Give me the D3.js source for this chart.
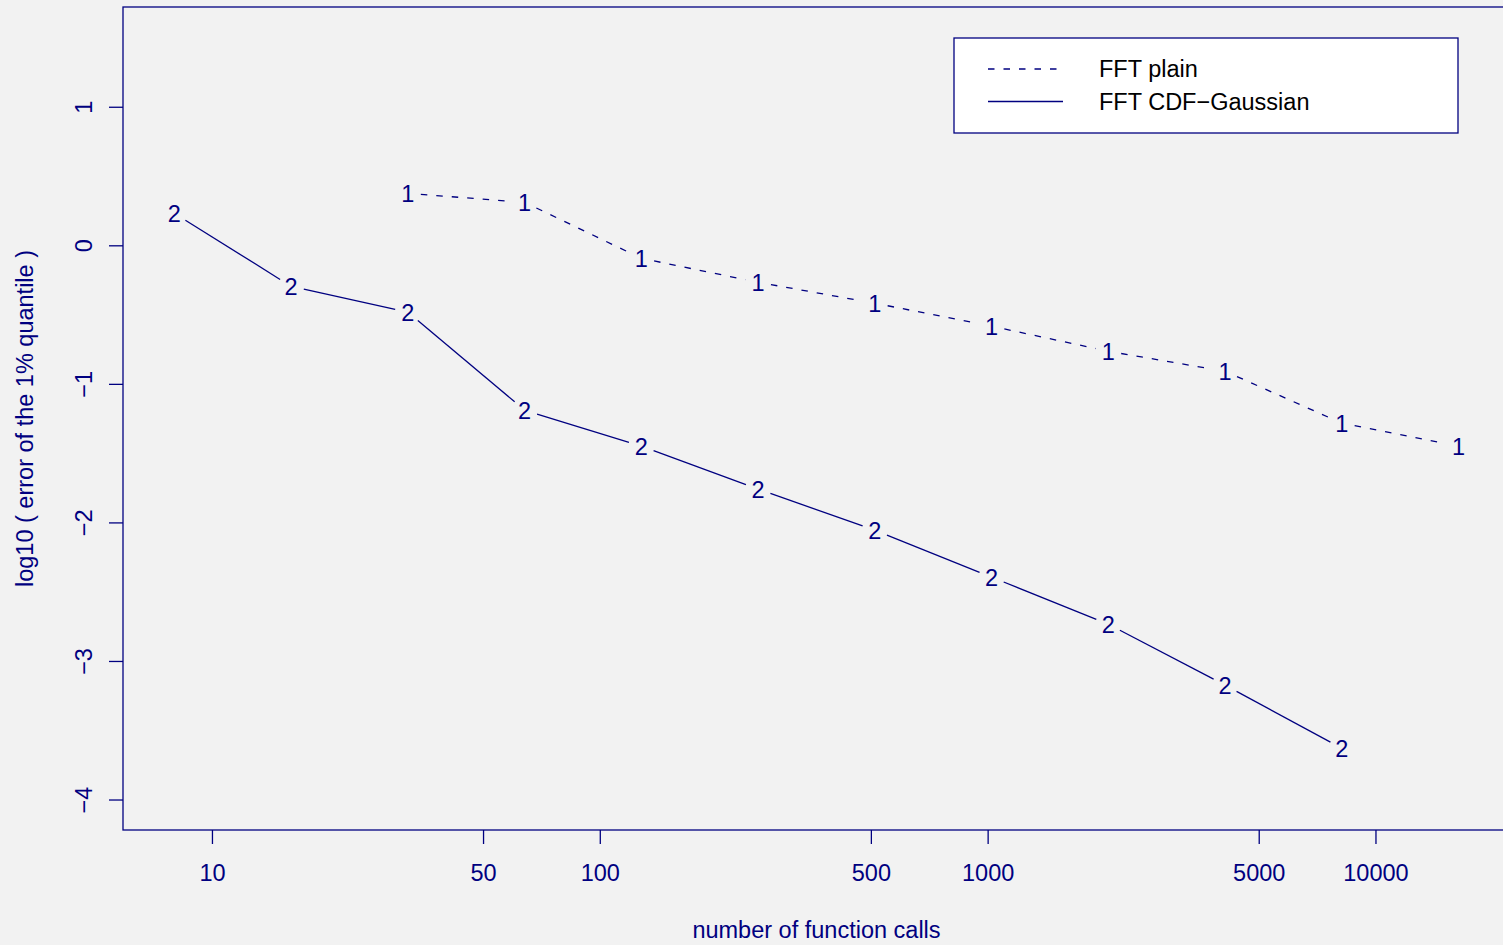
<!DOCTYPE html>
<html>
<head>
<meta charset="utf-8">
<script src="https://cdn.jsdelivr.net/npm/d3@7"></script>
<style>
  html, body { margin: 0; padding: 0; background: #f2f2f2; }
  svg { display: block; }
  text { font-family: "Liberation Sans", Arial, Helvetica, sans-serif; }
</style>
</head>
<body>
<svg id="chart" width="1503" height="945"></svg>
<script>
// Number of function calls (powers of two)
const callsPlain = [32, 64, 128, 256, 512, 1024, 2048, 4096, 8192, 16384];
const callsGauss = [8, 16, 32, 64, 128, 256, 512, 1024, 2048, 4096, 8192];

// log10 of the error of the 1% quantile
const errPlain = [0.375, 0.31, -0.094, -0.267, -0.418, -0.584, -0.765, -0.909, -1.284, -1.45];
const errGauss = [0.231, -0.296, -0.483, -1.19, -1.45, -1.76, -2.056, -2.395, -2.735, -3.175, -3.63];

const xTicks = [10, 50, 100, 500, 1000, 5000, 10000];
const yTicks = [-4, -3, -2, -1, 0, 1];
const yLimits = [-4, 1.5];

const seriesNames = ["FFT plain", "FFT CDF\u2212Gaussian"];
const seriesMarks = ["1", "2"];

const ink = "#000080";
const svg = d3.select("#chart");

const plot = { left: 123, top: 7, right: 1510, bottom: 830 };

// R-style 4% axis extension
const lx = d3.extent(callsGauss.concat(callsPlain)).map(Math.log10);
const dx = (lx[1] - lx[0]) * 0.04;
const x = d3.scaleLog()
  .domain([Math.pow(10, lx[0] - dx), Math.pow(10, lx[1] + dx)])
  .range([plot.left, plot.right]);
const dy = (yLimits[1] - yLimits[0]) * 0.04;
const y = d3.scaleLinear()
  .domain([yLimits[0] - dy, yLimits[1] + dy])
  .range([plot.bottom, plot.top]);

// plot frame
svg.append("rect")
  .attr("x", plot.left).attr("y", plot.top)
  .attr("width", plot.right - plot.left).attr("height", plot.bottom - plot.top)
  .attr("fill", "none").attr("stroke", ink).attr("stroke-width", 1.3);

const fontSize = 23.5;
const dashed = "6.5,9";

// x axis
const xAxis = svg.append("g")
  .attr("transform", `translate(0,${plot.bottom})`)
  .call(d3.axisBottom(x).tickValues(xTicks).tickFormat(d3.format("d")).tickSize(14).tickPadding(20));
xAxis.select(".domain").remove();
xAxis.selectAll("line").attr("stroke", ink).attr("stroke-width", 1.3);
xAxis.selectAll("text").attr("fill", ink).attr("font-size", fontSize)
  .attr("font-family", "Liberation Sans, Arial, sans-serif");

// y axis with rotated labels
const yAxis = svg.append("g")
  .attr("transform", `translate(${plot.left},0)`)
  .call(d3.axisLeft(y).tickValues(yTicks).tickFormat(d3.format("d")).tickSize(14).tickPadding(0));
yAxis.select(".domain").remove();
yAxis.selectAll("line").attr("stroke", ink).attr("stroke-width", 1.3);
yAxis.selectAll("text").remove();
yAxis.selectAll(".tick").append("text")
  .attr("transform", "translate(-39,0) rotate(-90)")
  .attr("text-anchor", "middle")
  .attr("dy", "0.35em")
  .attr("fill", ink).attr("font-size", fontSize)
  .attr("font-family", "Liberation Sans, Arial, sans-serif")
  .text(d => d3.format("d")(d));

// axis titles
svg.append("text")
  .attr("x", (plot.left + plot.right) / 2).attr("y", 930)
  .attr("dy", "0.35em").attr("text-anchor", "middle")
  .attr("fill", ink).attr("font-size", fontSize)
  .text("number of function calls");
svg.append("text")
  .attr("transform", `translate(25,${(plot.top + plot.bottom) / 2}) rotate(-90)`)
  .attr("dy", "0.35em").attr("text-anchor", "middle")
  .attr("fill", ink).attr("font-size", fontSize)
  .text("log10 ( error of the 1% quantile )");

// series drawn as "type b": numbered points joined by segments with gaps
const gap = 13;
function drawSeries(xs, ys, mark, dash) {
  const pts = xs.map((v, i) => [x(v), y(ys[i])]);
  const g = svg.append("g");
  for (let i = 0; i < pts.length - 1; i++) {
    const [x0, y0] = pts[i], [x1, y1] = pts[i + 1];
    const len = Math.hypot(x1 - x0, y1 - y0);
    if (len <= 2 * gap) continue;
    const ux = (x1 - x0) / len, uy = (y1 - y0) / len;
    g.append("line")
      .attr("x1", x0 + ux * gap).attr("y1", y0 + uy * gap)
      .attr("x2", x1 - ux * gap).attr("y2", y1 - uy * gap)
      .attr("stroke", ink).attr("stroke-width", 1.3)
      .attr("stroke-dasharray", dash);
  }
  g.selectAll("text").data(pts).join("text")
    .attr("x", d => d[0]).attr("y", d => d[1])
    .attr("dy", "0.36em").attr("text-anchor", "middle")
    .attr("fill", ink).attr("font-size", fontSize)
    .text(mark);
}
drawSeries(callsPlain, errPlain, seriesMarks[0], dashed);
drawSeries(callsGauss, errGauss, seriesMarks[1], null);

// legend
const lg = svg.append("g");
lg.append("rect")
  .attr("x", 954).attr("y", 38).attr("width", 504).attr("height", 95)
  .attr("fill", "#ffffff").attr("stroke", ink).attr("stroke-width", 1.3);
const legendDash = [dashed, null];
seriesNames.forEach((name, i) => {
  const ly = 69 + i * 32.5;
  lg.append("line")
    .attr("x1", 988).attr("x2", 1063).attr("y1", ly).attr("y2", ly)
    .attr("stroke", ink).attr("stroke-width", 1.3)
    .attr("stroke-dasharray", legendDash[i]);
  lg.append("text")
    .attr("x", 1099).attr("y", ly).attr("dy", "0.35em")
    .attr("fill", "#000000").attr("font-size", fontSize)
    .text(name);
});
</script>
</body>
</html>
